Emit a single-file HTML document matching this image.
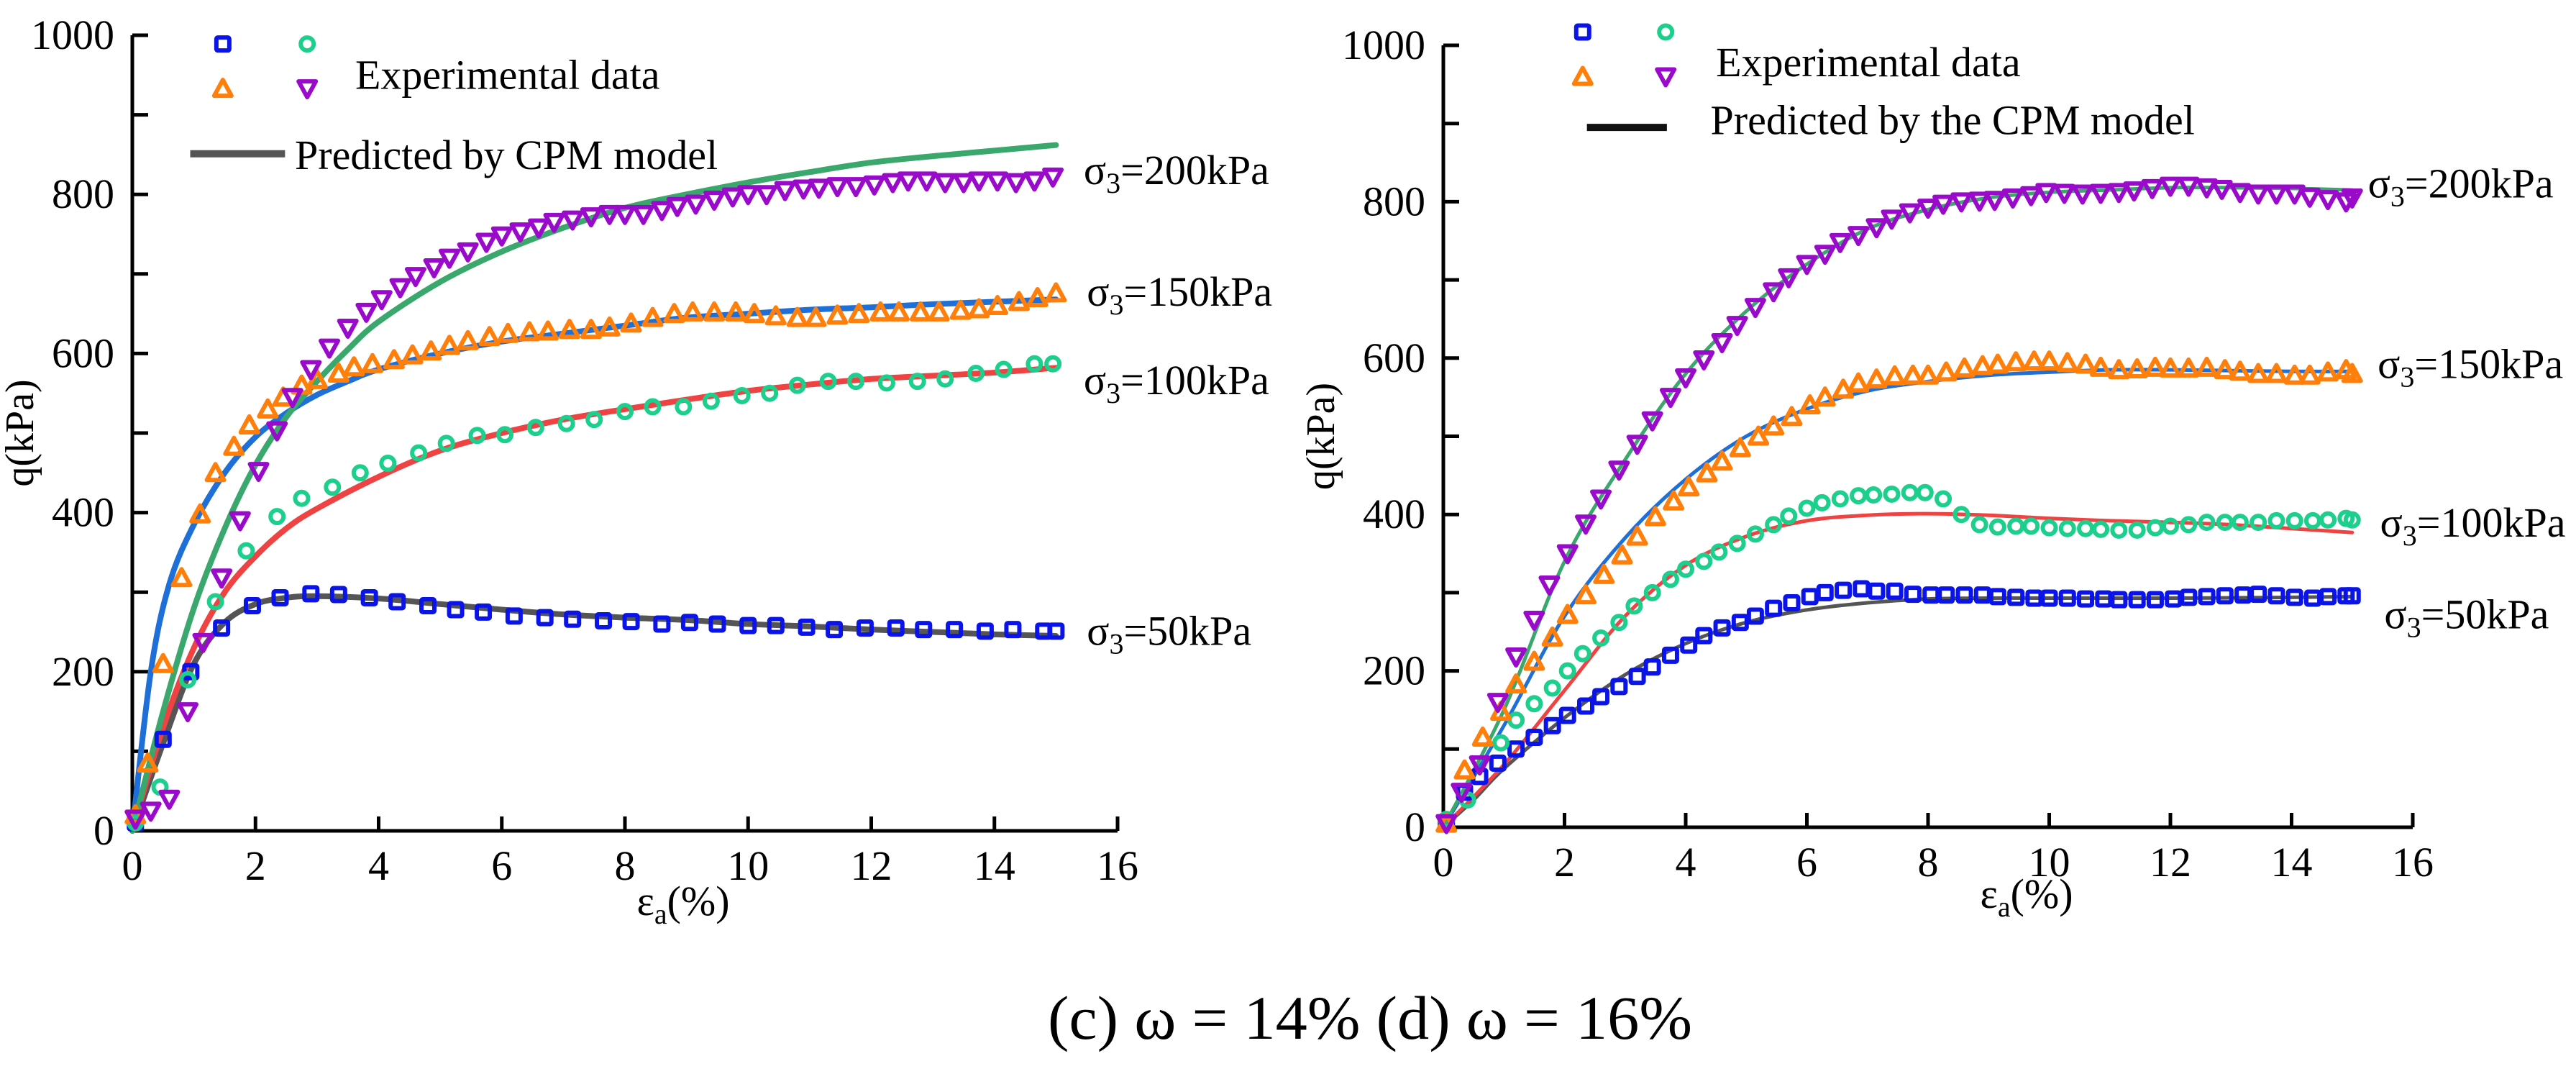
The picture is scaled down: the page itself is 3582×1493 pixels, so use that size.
<!DOCTYPE html>
<html><head><meta charset="utf-8"><style>
html,body{margin:0;padding:0;background:#fff;}
svg, svg text{font-family:"Liberation Serif","Times New Roman",serif;}
</style></head><body>
<svg id="fig" width="3582" height="1488" viewBox="0 0 3582 1488" xmlns="http://www.w3.org/2000/svg" font-family="'Liberation Serif', 'Times New Roman', serif">
<text x="1457" y="1444" font-size="86" font-family="'Liberation Serif', serif" textLength="896" lengthAdjust="spacingAndGlyphs">(c)  ω = 14%  (d) ω = 16%</text>
</svg>
<script>
// ---------- LEFT (c) data ----------
const L_s50x=[0.05,0.5,0.95,1.45,1.95,2.4,2.9,3.35,3.85,4.3,4.8,5.25,5.7,6.2,6.7,7.15,7.65,8.1,8.6,9.05,9.5,10,10.45,10.95,11.4,11.9,12.4,12.85,13.35,13.85,14.3,14.8,15];
const L_s50y=[10,115,200,255,283,293,298,297,293,288,283,278,275,270,268,266,264,263,260,262,260,258,258,256,253,255,255,253,253,251,253,251,251];
const L_m50x=[0,0.5,1,1.5,2,2.5,3,4,5,6,7,8,9,10,11,12,13,14,15];
const L_m50y=[0,110,210,262,285,293,295,292,285,278,272,268,265,260,257,253,250,247,245];
const L_s100x=[0.05,0.45,0.9,1.35,1.85,2.35,2.75,3.25,3.7,4.15,4.65,5.1,5.6,6.05,6.55,7.05,7.5,8,8.45,8.95,9.4,9.9,10.35,10.8,11.3,11.75,12.25,12.75,13.2,13.7,14.15,14.65,14.95];
const L_s100y=[10,55,190,288,352,395,418,432,450,462,475,487,497,498,507,512,517,527,533,533,540,547,550,560,565,565,563,565,568,575,580,587,587];
const L_m100x=[0,0.5,1,1.5,2,2.5,3,4,5,6,7,8,9,10,11,12,13,14,15];
const L_m100y=[0,130,230,300,345,380,405,445,478,500,517,530,542,553,561,568,572,576,582];
const L_s150x=[0.05,0.25,0.5,0.8,1.1,1.35,1.65,1.9,2.2,2.45,2.75,3,3.35,3.6,3.9,4.25,4.55,4.85,5.15,5.45,5.8,6.1,6.45,6.75,7.1,7.45,7.75,8.1,8.45,8.8,9.1,9.45,9.8,10.1,10.45,10.8,11.1,11.45,11.8,12.15,12.45,12.8,13.1,13.45,13.75,14.05,14.4,14.7,15];
const L_s150y=[20,85,210,318,398,450,483,510,530,545,560,567,575,583,587,592,598,603,610,616,621,625,627,628,630,630,633,638,645,650,652,652,652,650,647,645,645,648,650,652,652,652,652,654,656,660,665,670,676];
const L_m150x=[0,0.3,0.6,1,1.5,2,2.5,3,3.5,4,5,6,7,8,9,10,11,12,13,14,15];
const L_m150y=[0,200,310,385,450,495,525,548,565,580,600,615,625,635,645,650,655,658,662,665,668];
const L_s200x=[0.05,0.3,0.6,0.9,1.15,1.45,1.75,2.05,2.35,2.6,2.9,3.2,3.5,3.8,4.05,4.35,4.6,4.9,5.15,5.45,5.75,6,6.3,6.6,6.85,7.15,7.45,7.75,8,8.3,8.6,8.85,9.15,9.45,9.75,10,10.3,10.6,10.9,11.15,11.45,11.75,12.05,12.35,12.6,12.9,13.2,13.5,13.75,14.05,14.35,14.65,14.95];
const L_s200y=[15,25,40,150,237,318,390,452,503,545,580,607,632,652,668,683,697,708,720,728,740,748,753,758,765,768,772,775,775,775,780,785,788,793,797,800,800,805,807,808,810,810,812,815,817,817,815,815,817,817,815,817,822];
const L_m200x=[0,0.5,1,1.5,2,2.5,3,3.5,4,5,6,7,8,9,10,11,12,13,14,15];
const L_m200y=[0,150,280,380,460,520,565,605,640,690,728,758,783,800,815,828,840,848,855,862];
// ---------- RIGHT (d) data ----------
const R_s50x=[0.05,0.35,0.6,0.9,1.2,1.5,1.8,2.05,2.35,2.6,2.9,3.2,3.45,3.75,4.05,4.3,4.6,4.9,5.15,5.45,5.75,6.05,6.3,6.6,6.9,7.15,7.45,7.75,8.05,8.3,8.6,8.9,9.15,9.45,9.75,10,10.3,10.6,10.9,11.15,11.45,11.75,12.05,12.3,12.6,12.9,13.2,13.45,13.75,14.05,14.35,14.6,14.9,15];
const R_s50y=[5,45,65,82,100,115,130,143,155,167,180,193,205,220,233,245,255,262,270,280,287,295,300,303,305,302,302,298,297,297,297,297,295,294,293,293,293,292,292,291,291,291,292,294,295,296,297,298,296,294,293,295,296,296];
const R_m50x=[0,0.5,1,2,3,4,5,6,7,8,9,10,12,14,15];
const R_m50y=[0,35,75,140,195,235,262,278,287,292,293,293,293,294,295];
const R_s100x=[0.05,0.4,0.95,1.2,1.5,1.8,2.05,2.3,2.6,2.9,3.15,3.45,3.75,4,4.3,4.55,4.85,5.15,5.45,5.7,6,6.25,6.55,6.85,7.1,7.4,7.7,7.95,8.25,8.55,8.85,9.15,9.45,9.7,10,10.3,10.6,10.85,11.15,11.45,11.75,12,12.3,12.6,12.9,13.15,13.45,13.75,14.05,14.35,14.6,14.9,15];
const R_s100y=[10,35,108,137,158,178,200,222,242,262,283,300,317,330,340,352,363,375,387,398,408,415,420,424,425,426,428,428,420,400,387,384,385,385,383,382,382,381,380,380,383,385,387,390,390,390,390,392,392,392,393,395,393];
const R_m100x=[0,1,2,3,4,5,6,7,8,9,10,11,12,13,14,15];
const R_m100y=[0,80,175,270,335,372,392,399,401,399,395,392,390,387,382,377];
const R_s150x=[0.05,0.35,0.65,0.95,1.2,1.5,1.8,2.05,2.35,2.65,2.95,3.2,3.5,3.8,4.05,4.35,4.6,4.9,5.2,5.45,5.75,6.05,6.3,6.6,6.85,7.15,7.45,7.75,8,8.3,8.6,8.9,9.15,9.45,9.75,10,10.3,10.6,10.85,11.15,11.45,11.75,12,12.3,12.6,12.9,13.15,13.45,13.75,14.05,14.3,14.6,14.9,15];
const R_s150y=[5,73,115,148,183,212,243,272,297,323,348,372,397,417,435,453,468,485,500,513,525,540,550,560,568,573,577,578,578,582,587,590,592,595,596,596,594,592,588,585,586,588,587,587,588,585,583,580,580,578,578,582,585,580];
const R_m150x=[0,1,2,3,4,5,6,7,8,9,10,11,12,13,14,15];
const R_m150y=[0,130,270,370,445,500,535,558,570,578,582,585,585,584,583,583];
const R_s200x=[0.05,0.3,0.6,0.9,1.2,1.5,1.75,2.05,2.35,2.6,2.9,3.2,3.45,3.75,4,4.3,4.6,4.85,5.15,5.45,5.7,6,6.3,6.55,6.85,7.15,7.4,7.7,8,8.25,8.55,8.85,9.1,9.4,9.7,9.95,10.25,10.55,10.85,11.15,11.4,11.7,12,12.3,12.6,12.85,13.15,13.45,13.75,14.05,14.3,14.6,14.9,15];
const R_s200y=[5,45,80,160,218,265,310,350,388,420,457,490,520,550,575,598,620,642,665,685,703,720,733,748,757,767,778,786,792,797,800,801,802,805,808,812,811,810,811,812,814,817,820,820,818,816,812,810,810,810,806,803,800,805];
const R_m200x=[0,1,2,3,4,5,6,7,8,9,10,11,12,13,14,15];
const R_m200y=[0,150,340,470,580,660,720,765,790,805,812,815,818,818,817,815];
const xTicks=[0,2,4,6,8,10,12,14,16];
const yTicks=[0,200,400,600,800,1000];
const yMinor=[100,300,500,700,900];

const NS="http://www.w3.org/2000/svg";
const svg=document.getElementById('fig');
const FF="'Liberation Serif', 'Times New Roman', serif";
function mk(tag,attrs,parent){const e=document.createElementNS(NS,tag);for(const k in attrs)e.setAttribute(k,attrs[k]);if(tag==='text')e.setAttribute('font-family',FF);(parent||svg).appendChild(e);return e;}
const COL={c50:'#0a14e8',c100:'#1ccf8c',c150:'#ff7f0a',c200:'#9a0acb',l50:'#555555',l100:'#ef4343',l150:'#1f6fd8',l200:'#3aa86c'};

function smoothPath(pts){let d='M'+pts[0][0]+','+pts[0][1];for(let i=0;i<pts.length-1;i++){const p0=pts[Math.max(0,i-1)],p1=pts[i],p2=pts[i+1],p3=pts[Math.min(pts.length-1,i+2)];const c1x=p1[0]+(p2[0]-p0[0])/6,c1y=p1[1]+(p2[1]-p0[1])/6,c2x=p2[0]-(p3[0]-p1[0])/6,c2y=p2[1]-(p3[1]-p1[1])/6;d+=' C'+c1x+','+c1y+' '+c2x+','+c2y+' '+p2[0]+','+p2[1];}return d;}

function marker(g,type,cx,cy,col){
  let e;
  if(type==='sq'){e=mk('rect',{x:cx-9,y:cy-9,width:18,height:18,fill:'none',stroke:col,'stroke-width':6,rx:2},g);}
  else if(type==='ci'){e=mk('circle',{cx:cx,cy:cy,r:9,fill:'none',stroke:col,'stroke-width':6},g);}
  else if(type==='tu'){e=mk('polygon',{points:(cx)+','+(cy-12)+' '+(cx-12)+','+(cy+10)+' '+(cx+12)+','+(cy+10),fill:'none',stroke:col,'stroke-width':6,'stroke-linejoin':'round'},g);}
  else {e=mk('polygon',{points:(cx)+','+(cy+12)+' '+(cx-12)+','+(cy-10)+' '+(cx+12)+','+(cy-10),fill:'none',stroke:col,'stroke-width':6,'stroke-linejoin':'round'},g);}
  return e;
}

function chart(id,x0,x1,y0,y1,D,lw,legend,labels,xlabX,xlabY,qlabX){
  const X=v=>x0+(x1-x0)*v/16, Y=v=>y0-(y0-y1)*v/1000;
  const g=mk('g',{});
  
  
  const ax=mk('path',{d:'M'+x0+','+y1+' V'+y0+' H'+x1,fill:'none',stroke:'#000','stroke-width':5},g);
  
  
  xTicks.forEach(t=>{
    mk('line',{x1:X(t),x2:X(t),y1:y0,y2:y0-20,stroke:'#000','stroke-width':5},g);
    const tx=mk('text',{x:X(t),y:y0+68,'font-size':58,'text-anchor':'middle'},g);tx.textContent=t;
    
    
  });
  yTicks.concat(yMinor).forEach(t=>{mk('line',{x1:x0,x2:x0+22,y1:Y(t),y2:Y(t),stroke:'#000','stroke-width':5},g);});
  yTicks.forEach(t=>{
    const tx=mk('text',{x:x0-25,y:Y(t)+19,'font-size':58,'text-anchor':'end'},g);tx.textContent=t;
    
    
  });
  const xl=mk('text',{x:xlabX,y:xlabY,'font-size':58,'text-anchor':'middle'},g);
  xl.innerHTML='ε<tspan font-size="40" dy="12">a</tspan><tspan dy="-12">(%)</tspan>';
  
  
  const ql=mk('text',{x:0,y:0,'font-size':56,'text-anchor':'middle',transform:'translate('+qlabX+','+((y0+y1)/2)+') rotate(-90)'},g);
  ql.textContent='q(kPa)';
  
  
  D.lines.forEach(L=>{
    const p=mk('path',{d:smoothPath(L.x.map((v,i)=>[X(v),Y(L.y[i])])),fill:'none',stroke:L.c,'stroke-width':lw,'stroke-linecap':'round'},g);
    
    
  });
  D.pts.forEach(P=>{
    const sg=mk('g',{},g);
    
    
    P.x.forEach((v,i)=>{const m=marker(sg,P.t,X(v),Y(P.y[i]),P.c);
      
      });
  });
  const lg=mk('g',{},g);
  
  
  marker(lg,'sq',X(legend.m1[0]),Y(legend.m1[1]),COL.c50);
  marker(lg,'ci',X(legend.m2[0]),Y(legend.m1[1]),COL.c100);
  marker(lg,'tu',X(legend.m1[0]),Y(legend.m3),COL.c150);
  marker(lg,'td',X(legend.m2[0]),Y(legend.m3),COL.c200);
  const t1=mk('text',{x:X(legend.t1[0]),y:Y(legend.t1[1])+19,'font-size':58},lg);t1.textContent='Experimental data';
  
  
  mk('line',{x1:X(legend.l[0]),x2:X(legend.l[1]),y1:Y(legend.l[2]),y2:Y(legend.l[2]),stroke:legend.lc,'stroke-width':10},lg);
  const t2=mk('text',{x:X(legend.t2[0]),y:Y(legend.t2[1])+19,'font-size':58},lg);t2.textContent=legend.t2[2];
  
  
  labels.forEach(L=>{
    const t=mk('text',{x:X(L[0]),y:Y(L[1])+19,'font-size':58},g);
    t.innerHTML='σ<tspan font-size="40" dy="12">3</tspan><tspan dy="-12">='+L[2]+'kPa</tspan>';
    
    
  });
}

chart('chart-c-omega-14',184,1554,1155,49,{
  lines:[{x:L_m50x,y:L_m50y,c:COL.l50,n:'model-50'},{x:L_m100x,y:L_m100y,c:COL.l100,n:'model-100'},{x:L_m150x,y:L_m150y,c:COL.l150,n:'model-150'},{x:L_m200x,y:L_m200y,c:COL.l200,n:'model-200'}],
  pts:[{x:L_s50x,y:L_s50y,t:'sq',c:COL.c50,n:'exp-50'},{x:L_s100x,y:L_s100y,t:'ci',c:COL.c100,n:'exp-100'},{x:L_s150x,y:L_s150y,t:'tu',c:COL.c150,n:'exp-150'},{x:L_s200x,y:L_s200y,t:'td',c:COL.c200,n:'exp-200'}]
},8,{m1:[1.47,989],m2:[2.84],m3:933,t1:[3.62,950],l:[0.94,2.48,851],lc:'#555',t2:[2.64,849,'Predicted by CPM model']},
[[15.45,830,'200'],[15.5,677,'150'],[15.45,566,'100'],[15.5,251,'50']],950,1272,46);

chart('chart-d-omega-16',2007,3355,1150,63,{
  lines:[{x:R_m50x,y:R_m50y,c:COL.l50,n:'model-50'},{x:R_m100x,y:R_m100y,c:COL.l100,n:'model-100'},{x:R_m150x,y:R_m150y,c:COL.l150,n:'model-150'},{x:R_m200x,y:R_m200y,c:COL.l200,n:'model-200'}],
  pts:[{x:R_s50x,y:R_s50y,t:'sq',c:COL.c50,n:'exp-50'},{x:R_s100x,y:R_s100y,t:'ci',c:COL.c100,n:'exp-100'},{x:R_s150x,y:R_s150y,t:'tu',c:COL.c150,n:'exp-150'},{x:R_s200x,y:R_s200y,t:'td',c:COL.c200,n:'exp-200'}]
},5,{m1:[2.3,1017],m2:[3.67],m3:960,t1:[4.5,978],l:[2.37,3.69,895],lc:'#111',t2:[4.41,904,'Predicted by the CPM model']},
[[15.26,823,'200'],[15.42,592,'150'],[15.46,389,'100'],[15.53,272,'50']],2818,1262,1855);
</script>
</body></html>
